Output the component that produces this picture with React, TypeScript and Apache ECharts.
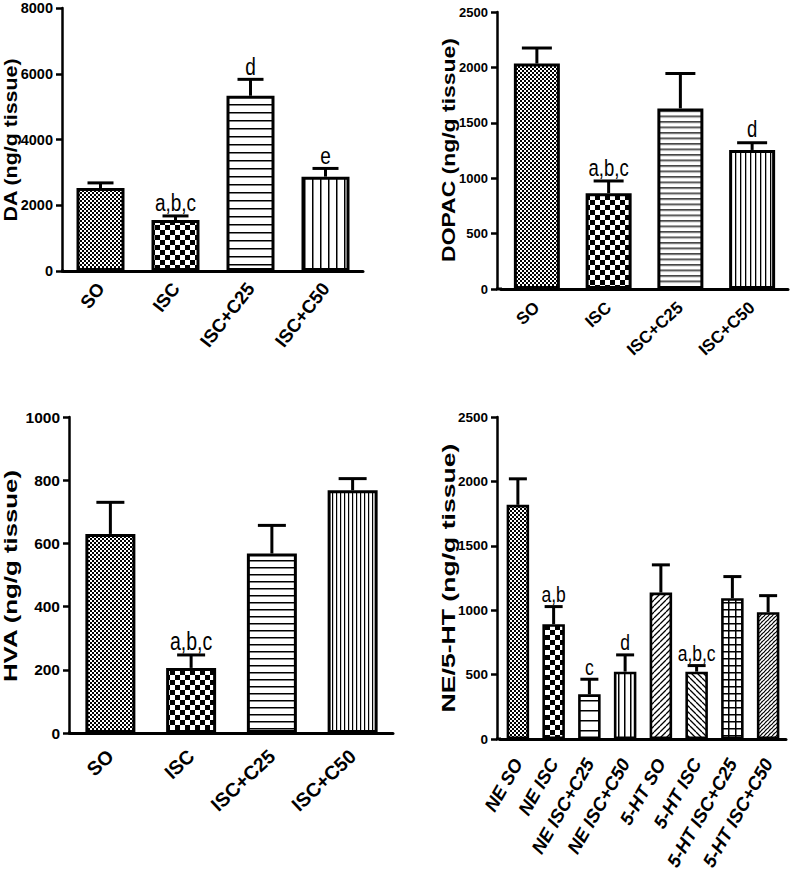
import React, { useEffect, useRef } from 'react';
import * as echarts from 'echarts';

// ---------------- data ----------------
const groups = ['SO', 'ISC', 'ISC+C25', 'ISC+C50'];

const daMean = [2525, 1550, 5330, 2870];
const daErrTop = [2680, 1675, 5830, 3120];
const daSig = ['', 'a,b,c', 'd', 'e'];

const dopacMean = [2035, 865, 1630, 1255];
const dopacErrTop = [2175, 975, 1945, 1320];
const dopacSig = ['', 'a,b,c', '', 'd'];

const hvaMean = [630, 206, 568, 768];
const hvaErrTop = [730, 247, 657, 805];
const hvaSig = ['', 'a,b,c', '', ''];

const neHtCats = ['NE SO', 'NE ISC', 'NE ISC+C25', 'NE ISC+C50', '5-HT SO', '5-HT ISC', '5-HT ISC+C25', '5-HT ISC+C50'];
const neHtMean = [1818, 891, 347, 523, 1137, 523, 1093, 984];
const neHtErrTop = [2020, 1028, 464, 653, 1352, 570, 1261, 1113];
const neHtSig = ['', 'a,b', 'c', 'd', '', 'a,b,c', '', ''];

const yTitles = ['DA (ng/g tissue)', 'DOPAC (ng/g tissue)', 'HVA (ng/g tissue)', 'NE/5-HT (ng/g tissue)'];

// ---------------- styling helpers ----------------
const SANS = '"Liberation Sans", Arial, Helvetica, sans-serif';

type Pat = { image: HTMLCanvasElement; repeat: string; imageWidth: number; imageHeight: number };

function pattern(kind: string, s: number, t = 1.5): Pat {
  let w = s, h = s;
  if (kind === 'fine' || kind === 'coarse') { w = h = s * 2; }
  if (kind === 'h') { w = 2; h = s; }
  if (kind === 'v') { w = s; h = 2; }
  const c = document.createElement('canvas');
  c.width = w; c.height = h;
  const g = c.getContext('2d')!;
  g.fillStyle = '#fff';
  g.fillRect(0, 0, w, h);
  g.fillStyle = '#000';
  g.strokeStyle = '#000';
  if (kind === 'fine' || kind === 'coarse') {
    g.fillRect(0, 0, s, s);
    g.fillRect(s, s, s, s);
  } else if (kind === 'h') {
    g.fillRect(0, 0, w, t);
  } else if (kind === 'v') {
    g.fillRect(0, 0, t, h);
  } else if (kind === 'grid') {
    g.fillRect(0, 0, w, t);
    g.fillRect(0, 0, t, h);
  } else if (kind === 'fwd' || kind === 'back' || kind === 'dense') {
    g.lineWidth = t;
    g.beginPath();
    for (const k of [-s, 0, s]) {
      if (kind === 'back') { g.moveTo(k, 0); g.lineTo(k + s, s); }
      else { g.moveTo(k, s); g.lineTo(k + s, 0); }
    }
    g.stroke();
    if (kind === 'dense') {
      g.strokeStyle = '#777';
      g.lineWidth = 0.8;
      g.beginPath();
      g.moveTo(0, 0); g.lineTo(s / 2, s / 2);
      g.stroke();
    }
  }
  return { image: c, repeat: 'repeat', imageWidth: w, imageHeight: h };
}

function measure(text: string, font: string) {
  const c = document.createElement('canvas').getContext('2d')!;
  c.font = font;
  return c.measureText(text).width;
}

export default function App() {
  const ref = useRef<HTMLDivElement>(null);

  useEffect(() => {
    if (!ref.current) return;
    const chart = echarts.init(ref.current, undefined, { renderer: 'svg' });

    const pats = [
      [pattern('fine', 2), pattern('coarse', 5), pattern('h', 8), pattern('v', 8)],
      [pattern('fine', 2), pattern('coarse', 5), pattern('h', 5.5, 1.3), pattern('v', 5, 1.3)],
      [pattern('fine', 2), pattern('coarse', 5), pattern('h', 7), pattern('v', 4, 1.2)],
      [pattern('fine', 2), pattern('coarse', 5), pattern('h', 10), pattern('v', 6),
       pattern('fwd', 6, 1.3), pattern('back', 6, 1.3), pattern('grid', 7, 1.5), pattern('dense', 4, 1.2)],
    ];

    const panels = [
      { cats: groups, mean: daMean, err: daErrTop, sig: daSig, max: 8000, interval: 2000,
        grid: { left: 63, top: 8, width: 300, height: 263 }, axisX: 62,
        barW: 48, capW: 26, yFont: 14.5, xFont: 18.5, xRot: 52, xMargin: 14, xItalic: false, sigFont: 19,
        title: { x: 11, y: 140, len: 164 } },
      { cats: groups, mean: dopacMean, err: dopacErrTop, sig: dopacSig, max: 2500, interval: 500,
        grid: { left: 501, top: 12, width: 287, height: 277 }, axisX: 497,
        barW: 46, capW: 30, yFont: 13, xFont: 17, xRot: 43, xMargin: 16, xItalic: false, sigFont: 18.5,
        title: { x: 448, y: 150, len: 224 } },
      { cats: groups, mean: hvaMean, err: hvaErrTop, sig: hvaSig, max: 1000, interval: 200,
        grid: { left: 70, top: 417, width: 323, height: 316 }, axisX: 69,
        barW: 50, capW: 28, yFont: 15.5, xFont: 19.5, xRot: 43, xMargin: 20, xItalic: false, sigFont: 19.5,
        title: { x: 11, y: 576, len: 213 } },
      { cats: neHtCats, mean: neHtMean, err: neHtErrTop, sig: neHtSig, max: 2500, interval: 500,
        grid: { left: 500, top: 417, width: 286, height: 322 }, axisX: 497,
        barW: 22.5, capW: 18, yFont: 13.5, xFont: 18.5, xRot: 60, xMargin: 21, xItalic: true, sigFont: 17.5,
        title: { x: 449, y: 578, len: 269 } },
    ];

    const grids: any[] = [];
    const xAxes: any[] = [];
    const yAxes: any[] = [];
    const series: any[] = [];
    const graphics: any[] = [];

    panels.forEach((p, gi) => {
      grids.push({ ...p.grid, containLabel: false });
      xAxes.push({
        type: 'category', gridIndex: gi, data: p.cats,
        axisLine: { lineStyle: { color: '#000', width: 3 } },
        axisTick: { alignWithLabel: true, length: 8, lineStyle: { color: '#000', width: 2.5 } },
        axisLabel: {
          interval: 0, rotate: p.xRot, margin: p.xMargin, color: '#000',
          fontSize: p.xFont, fontWeight: 'bold', fontFamily: SANS,
          fontStyle: p.xItalic ? 'italic' : 'normal',
        },
        splitLine: { show: false },
      });
      yAxes.push({
        type: 'value', gridIndex: gi, min: 0, max: p.max, interval: p.interval,
        offset: p.grid.left - p.axisX,
        axisLine: { show: true, lineStyle: { color: '#000', width: 2.5 } },
        axisTick: { show: true, length: 6, lineStyle: { color: '#000', width: 2.5 } },
        axisLabel: {
          margin: 9, color: '#000', fontSize: p.yFont, fontWeight: 'bold', fontFamily: SANS,
          formatter: (v: number) => String(v),
        },
        splitLine: { show: false },
      });
      const pp = pats[gi];
      series.push({
        type: 'bar', xAxisIndex: gi, yAxisIndex: gi, barWidth: p.barW, z: 2,
        data: p.mean.map((v, i) => ({
          value: v,
          itemStyle: { color: pp[i] as any, borderColor: '#000', borderWidth: gi === 3 ? 2.6 : 3 },
        })),
        emphasis: { disabled: true },
      });
      const capW = p.capW, sig = p.sig, sigFont = p.sigFont;
      series.push({
        type: 'custom', xAxisIndex: gi, yAxisIndex: gi, z: 5,
        data: p.mean.map((v, i) => [i, v, p.err[i]]),
        renderItem: (params: any, api: any) => {
          const i = api.value(0);
          const base = api.coord([i, api.value(1)]);
          const top = api.coord([i, api.value(2)]);
          const children: any[] = [
            { type: 'line', shape: { x1: base[0], y1: base[1], x2: top[0], y2: top[1] }, style: { stroke: '#000', lineWidth: 3 } },
            { type: 'line', shape: { x1: top[0] - capW / 2, y1: top[1], x2: top[0] + capW / 2, y2: top[1] }, style: { stroke: '#000', lineWidth: 3 } },
          ];
          const s = sig[params.dataIndex];
          if (s) {
            children.push({
              type: 'text', x: top[0], y: top[1] - 1, scaleY: 1.28,
              style: {
                text: s, fill: '#000', fontSize: sigFont, fontFamily: SANS,
                align: 'center', verticalAlign: 'bottom', textAlign: 'center', textVerticalAlign: 'bottom',
              },
            });
          }
          return { type: 'group', children };
        },
      });
      // corner filler between y-axis and start of category axis
      const yb = p.grid.top + p.grid.height;
      graphics.push({
        type: 'line', shape: { x1: p.axisX - 1, y1: yb, x2: p.grid.left + 1, y2: yb },
        style: { stroke: '#000', lineWidth: 3 }, z: 10,
      });
      const tf = `bold 18px ${SANS}`;
      const natural = measure(yTitles[gi], tf) || 1;
      graphics.push({
        type: 'text', x: p.title.x, y: p.title.y, rotation: Math.PI / 2,
        scaleX: p.title.len / natural, scaleY: 1,
        style: {
          text: yTitles[gi], fill: '#000', fontSize: 18, fontWeight: 'bold', fontFamily: SANS,
          align: 'center', verticalAlign: 'middle', textAlign: 'center', textVerticalAlign: 'middle',
        },
      });
    });

    chart.setOption({
      animation: false,
      backgroundColor: '#fff',
      grid: grids,
      xAxis: xAxes,
      yAxis: yAxes,
      series,
      graphic: graphics,
    });

    return () => chart.dispose();
  }, []);

  return (
    <div
      ref={ref}
      style={{ position: 'fixed', left: 0, top: 0, width: 790, height: 884, background: '#fff' }}
    />
  );
}
